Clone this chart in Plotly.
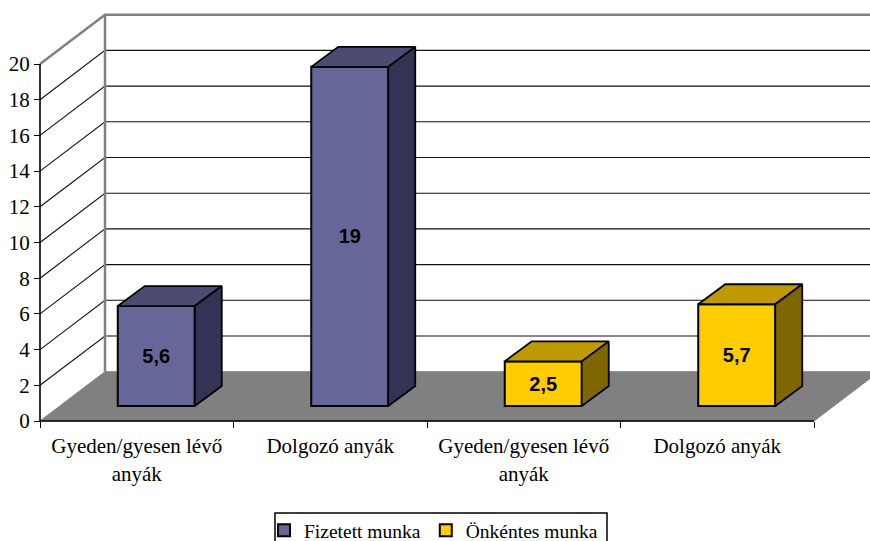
import plotly.graph_objects as go

CATEGORIES = ["Gyeden/gyesen lévő<br>anyák", "Dolgozó anyák", "Gyeden/gyesen lévő<br>anyák", "Dolgozó anyák"]
SERIES_A_NAME = "Fizetett munka"
SERIES_B_NAME = "Önkéntes munka"
SERIES_A_POS = [0, 1]
SERIES_B_POS = [2, 3]
SERIES_A_VALUES = [5.6, 19]
SERIES_B_VALUES = [2.5, 5.7]
SERIES_A_LABELS = ["5,6", "19"]
SERIES_B_LABELS = ["2,5", "5,7"]
Y_TICKS = [0, 2, 4, 6, 8, 10, 12, 14, 16, 18, 20]

W, H = 870, 541
X0, CAT_W = 40.0, 193.5
Y0, UNIT = 421.0, 17.85
DX, DY = 65 / CAT_W, 49.3 / UNIT          # wall / floor depth
BDX, BDY = 27 / CAT_W, 20 / UNIT          # bar depth
BAR_W = 77 / CAT_W
BAR_SHIFT_X, BAR_BASE = 19.5 / CAT_W, 15 / UNIT
X_RANGE = [-X0 / CAT_W, (W - X0) / CAT_W]
Y_RANGE = [(Y0 - H) / UNIT, Y0 / UNIT]
N = len(CATEGORIES)
FONT_SERIF = "Liberation Serif"
TEXT_SIZE = 21


def path(points, closed=False):
    return "M" + " L".join(f"{x},{y}" for x, y in points) + (" Z" if closed else "")


shapes = []


def add(points, fill=None, color="black", width=1.0):
    s = dict(type="path", xref="x", yref="y", layer="below", path=path(points, closed=bool(fill)),
             line=dict(color=color, width=width))
    if fill:
        s["fillcolor"] = fill
    shapes.append(s)


far = X_RANGE[1] + 0.01
# floor: parallelogram, cut off by the right edge of the picture
add([(0, 0), (DX, DY), (far, DY), (far, (far - N) * DY / DX), (N, 0)],
    fill="#808080", color="#808080", width=1)
# grid lines on the side and back walls
for t in Y_TICKS[1:-1]:
    add([(0, t), (DX, t + DY), (far, t + DY)], color="#111111", width=1.1)
add([(0, 20), (DX, 20 + DY), (far, 20 + DY)], color="#808080", width=2.5)
add([(DX, DY), (DX, 20 + DY)], color="#808080", width=2.5)
# axes
add([(0, 0), (0, 20)], color="black", width=1.6)
add([(0, 0), (N, 0)], color="black", width=1.6)
# legend frame (runs off the bottom of the picture, as in the reference)
shapes.append(dict(type="rect", xref="paper", yref="paper", x0=275 / W, x1=607 / W,
                   y0=-6 / H, y1=(H - 513) / H, layer="above",
                   line=dict(color="black", width=1.5)))

fig = go.Figure()


def series(name, pos, vals, labels, front, side, top):
    centers = [p + 0.5 + BAR_SHIFT_X for p in pos]
    fig.add_trace(go.Bar(
        name=name, x=centers, y=vals, base=[BAR_BASE] * len(vals), width=BAR_W,
        marker=dict(color=front, line=dict(color="black", width=2)),
        text=labels, textposition="inside", insidetextanchor="middle", textangle=0,
        insidetextfont=dict(family="Liberation Sans", size=20, color="black"),
        texttemplate="<b>%{text}</b>", hoverinfo="skip",
    ))
    for c, v in zip(centers, vals):
        l, r = c - BAR_W / 2, c + BAR_W / 2
        b, t = BAR_BASE, BAR_BASE + v
        fig.add_trace(go.Scatter(
            x=[l, r, r + BDX, l + BDX, l], y=[t, t, t + BDY, t + BDY, t], mode="lines",
            fill="toself", fillcolor=top, line=dict(color="black", width=1.8),
            showlegend=False, hoverinfo="skip"))
        fig.add_trace(go.Scatter(
            x=[r, r + BDX, r + BDX, r, r], y=[b, b + BDY, t + BDY, t, b], mode="lines",
            fill="toself", fillcolor=side, line=dict(color="black", width=1.8),
            showlegend=False, hoverinfo="skip"))


series(SERIES_A_NAME, SERIES_A_POS, SERIES_A_VALUES, SERIES_A_LABELS, "#666699", "#333355", "#4C4C73")
series(SERIES_B_NAME, SERIES_B_POS, SERIES_B_VALUES, SERIES_B_LABELS, "#FFCC00", "#806600", "#BF9900")

fig.update_layout(
    width=W, height=H, margin=dict(l=0, r=0, t=0, b=0, autoexpand=False), autosize=False,
    paper_bgcolor="white", plot_bgcolor="white", barmode="overlay", shapes=shapes,
    font=dict(family=FONT_SERIF, size=TEXT_SIZE, color="black"),
    legend=dict(
        orientation="h", x=264 / W, xanchor="left", y=-9 / H, yanchor="bottom",
        borderwidth=0, bgcolor="rgba(0,0,0,0)",
        font=dict(family=FONT_SERIF, size=19.5, color="black"),
        tracegroupgap=0, itemwidth=30,
    ),
    xaxis=dict(
        range=X_RANGE, anchor="free", position=(H - Y0) / H, showgrid=False, zeroline=False,
        showline=False, tickmode="array", tickvals=[i + 0.5 for i in range(N)], ticktext=CATEGORIES,
        ticks="outside", ticklen=6, tickcolor="rgba(0,0,0,0)", tickangle=0,
        tickfont=dict(family=FONT_SERIF, size=TEXT_SIZE),
        minor=dict(tickmode="array", tickvals=list(range(N + 1)), ticks="outside", ticklen=6,
                   tickcolor="black", tickwidth=1, showgrid=False),
    ),
    yaxis=dict(
        range=Y_RANGE, anchor="free", position=X0 / W, showgrid=False, zeroline=False,
        showline=False, tickmode="array", tickvals=Y_TICKS, ticks="outside", ticklen=6,
        tickcolor="black", tickwidth=1, tickfont=dict(family=FONT_SERIF, size=TEXT_SIZE),
    ),
)
fig.write_html("out.html", post_script="document.body.style.margin='0';",
               config={"displayModeBar": False})
